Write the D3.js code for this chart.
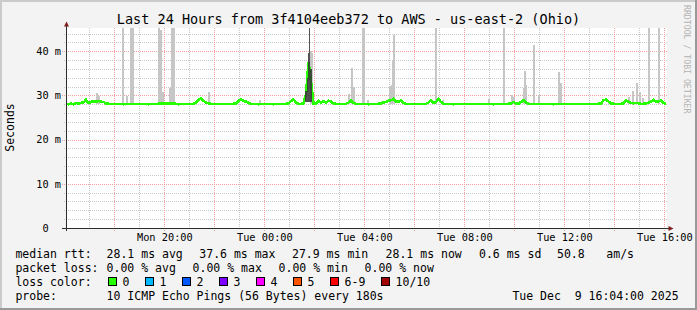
<!DOCTYPE html>
<html>
<head>
<meta charset="utf-8">
<script src="https://cdn.jsdelivr.net/npm/d3@7"></script>
<style>
body { margin: 0; background: #f3f3f3; }
text { font-family: "DejaVu Sans Mono", monospace; fill: #000; }
</style>
</head>
<body>
<script>
// time window of the graph: last 24 hours
var startTime = new Date(2025, 11, 8, 16, 4),
    endTime = new Date(2025, 11, 9, 16, 4);

// median rtt in ms, one value every 6 minutes from startTime
var stepMin = 6;
var medianMs = [
  28.2,28.0,28.2,28.0,28.3,28.1,28.3,28.4,29.0,28.3,28.5,28.7,28.6,28.7,28.6,28.5,28.2,28.1,28.1,28.1,
  28.1,28.1,28.1,28.0,28.1,28.1,28.1,28.1,28.0,28.1,28.1,28.1,28.1,28.0,28.1,28.1,28.1,28.1,28.2,28.2,
  28.2,28.2,28.2,28.2,28.1,28.0,28.1,28.1,28.1,28.1,28.0,28.1,28.4,29.0,29.3,28.8,28.4,28.2,28.1,28.1,
  28.1,28.1,28.0,28.1,28.1,28.1,28.1,28.1,28.2,28.7,29.2,28.7,28.6,28.3,28.1,28.1,28.1,28.0,28.1,28.1,
  28.1,28.1,28.1,28.0,28.1,28.1,28.1,28.1,28.1,28.2,28.7,29.1,28.4,28.1,28.1,28.2,30.2,37.6,33.1,28.2,
  28.1,28.8,28.3,28.7,28.3,28.8,28.6,28.2,28.1,28.1,28.0,28.1,28.1,28.4,28.8,28.3,28.1,28.1,28.1,28.1,
  28.1,28.0,28.1,28.1,28.1,28.1,28.2,28.4,28.5,28.8,28.9,29.2,28.6,28.6,28.9,28.3,28.1,28.1,28.1,28.1,
  28.1,28.1,28.0,28.1,28.1,28.4,28.9,28.3,28.5,29.2,28.5,28.1,28.1,28.1,28.1,28.0,28.1,28.1,28.1,28.1,
  28.1,28.1,28.1,28.1,28.0,28.1,28.1,28.1,28.1,28.1,28.1,28.0,28.1,28.1,28.1,28.1,28.1,28.1,28.2,28.5,
  28.2,28.1,28.5,28.9,28.4,28.1,28.1,28.1,28.0,28.1,28.1,28.1,28.1,28.1,28.1,28.0,28.1,28.1,28.1,28.1,
  28.1,28.1,28.1,28.1,28.0,28.1,28.1,28.1,28.1,28.1,28.1,28.1,28.1,28.1,28.2,28.9,29.1,28.6,28.2,28.1,
  28.1,28.1,28.1,28.2,28.9,28.5,28.3,28.2,28.3,28.2,28.1,28.1,28.2,28.3,28.6,29.0,28.5,28.7,28.8,28.3,
  28.1
];

// smoke: single high pings (minutes after startTime, top of smoke in ms)
var smokeMin = [74, 79, 98, 137, 146, 156, 160, 224, 229, 233, 250, 254, 259, 343, 466, 587, 590,
  679, 686, 690, 712, 716, 725, 758, 778, 782, 785, 788, 888, 905, 1015, 1052, 1070, 1074,
  1099, 1102, 1105, 1123, 1135, 1183, 1187, 1303, 1351, 1360, 1370, 1378, 1384, 1399, 1424];
var smokeTop = [30.5, 29.8, 28.6, 50, 29.9, 50, 50, 50, 44.8, 30.8, 31.6, 50, 50, 30.8, 29.0, 40.0, 39.6,
  30.3, 36.1, 31.9, 50, 50, 29.0, 28.7, 32.1, 32.4, 38.0, 43.7, 50, 29.0, 29.2, 50, 30.1, 29.7,
  31.7, 35.6, 32.4, 41.4, 30.1, 35.4, 32.7, 28.7, 29.6, 31.1, 32.9, 30.8, 29.4, 50, 50];

// dense smoke around the big spike
var darkMin = [576, 579, 582, 585, 588];
var darkTop = [31.0, 34.0, 39.7, 50, 36.0];

var yTicks = [0, 10, 20, 30, 40];

var rttStats = ["28.1 ms avg", "37.6 ms max", "27.9 ms min", "28.1 ms now", "0.6 ms sd", "50.8", "am/s"];
var lossStats = ["0.00 % avg", "0.00 % max", "0.00 % min", "0.00 % now"];
var lossLabels = ["0", "1", "2", "3", "4", "5", "6-9", "10/10"];
var lossColors = ["#26ff00", "#00b8ff", "#0059ff", "#7e00ff", "#ff00ff", "#ff5500", "#ff0000", "#a10000"];

var W = 697, H = 310;
var gLeft = 66, gRight = 666, gTop = 28, gBottom = 228;

var svg = d3.select("body").append("svg")
    .attr("width", W)
    .attr("height", H);

// background and 3d border
svg.append("rect").attr("width", W).attr("height", H).attr("fill", "#f3f3f3");
svg.append("path").attr("d", "M0,0H" + W + "V2H2V" + H + "H0Z").attr("fill", "#cbcbcb");
svg.append("path").attr("d", "M" + W + "," + H + "H0V" + (H - 2) + "H" + (W - 2) + "V0H" + W + "Z").attr("fill", "#999999");

var x = d3.scaleTime().domain([startTime, endTime]).range([gLeft, gRight]);
var y = d3.scaleLinear().domain([0, 45.25]).range([gBottom, gTop]);

function tAt(min) { return new Date(+startTime + min * 60000); }
function px(v) { return Math.round(v) + 0.5; }

// canvas
svg.append("rect")
    .attr("x", gLeft).attr("y", gTop)
    .attr("width", gRight - gLeft + 1).attr("height", gBottom - gTop)
    .attr("fill", "#fff");

svg.append("clipPath").attr("id", "clip")
  .append("rect").attr("x", gLeft).attr("y", gTop).attr("width", gRight - gLeft + 1).attr("height", gBottom - gTop);

var grid = svg.append("g").attr("shape-rendering", "crispEdges");
var minorCol = "#c8c8c8", majorCol = "#f4a0a0";

// horizontal grid every 2 ms, major every 10 ms
d3.range(2, 46, 2).forEach(function(v) {
  var major = v % 10 === 0;
  grid.append("line")
      .attr("x1", major ? 62 : 64).attr("x2", gRight + 1)
      .attr("y1", px(y(v))).attr("y2", px(y(v)))
      .attr("stroke", major ? majorCol : minorCol)
      .attr("stroke-dasharray", "1,1");
});

// vertical grid every hour, major every 2 hours
d3.timeHour.range(startTime, endTime).forEach(function(t) {
  var major = t.getHours() % 2 === 0;
  grid.append("line")
      .attr("x1", px(x(t))).attr("x2", px(x(t)))
      .attr("y1", gTop).attr("y2", major ? gBottom + 3 : gBottom + 2)
      .attr("stroke", major ? majorCol : minorCol)
      .attr("stroke-dasharray", "1,1");
});

var plot = svg.append("g").attr("clip-path", "url(#clip)");

// light smoke
plot.selectAll("rect.smoke")
    .data(smokeMin)
  .enter().append("rect")
    .attr("class", "smoke")
    .attr("shape-rendering", "crispEdges")
    .attr("x", function(d) { return x(tAt(d - 2.5)); })
    .attr("width", function(d) { return x(tAt(d + 2.5)) - x(tAt(d - 2.5)); })
    .attr("y", function(d, i) { return y(smokeTop[i]); })
    .attr("height", function(d, i) { return y(28.0) - y(smokeTop[i]); })
    .attr("fill", "#c6c6c6");

// median line
var line = d3.line()
    .x(function(d, i) { return x(tAt(i * stepMin)); })
    .y(function(d) { return y(d); });

plot.append("path")
    .datum(medianMs)
    .attr("d", line)
    .attr("fill", "none")
    .attr("stroke", lossColors[0])
    .attr("stroke-width", 2.6)
    .attr("shape-rendering", "crispEdges");

// dark smoke
plot.selectAll("rect.dark")
    .data(darkMin)
  .enter().append("rect")
    .attr("class", "dark")
    .attr("shape-rendering", "crispEdges")
    .attr("x", function(d) { return x(tAt(d - 1.5)); })
    .attr("width", function(d) { return x(tAt(d + 1.5)) - x(tAt(d - 1.5)); })
    .attr("y", function(d, i) { return y(darkTop[i]); })
    .attr("height", function(d, i) { return y(28.6) - y(darkTop[i]); })
    .attr("fill", "#333")
    .attr("fill-opacity", 0.85);

// axes
var axisCol = "#2c2c2c", arrowCol = "#7f1f1f";
var ax = svg.append("g").attr("shape-rendering", "crispEdges");
ax.append("line").attr("x1", 62).attr("x2", 669).attr("y1", gBottom + 0.5).attr("y2", gBottom + 0.5).attr("stroke", axisCol);
ax.append("line").attr("x1", gLeft + 0.5).attr("x2", gLeft + 0.5).attr("y1", gBottom + 3).attr("y2", 25).attr("stroke", axisCol);
svg.append("path").attr("d", "M66.5,21.5L64,26.5L69,26.5Z").attr("fill", arrowCol);
svg.append("path").attr("d", "M673.5,228.5L668.5,226L668.5,231Z").attr("fill", arrowCol);

var yAxis = svg.append("g")
    .attr("transform", "translate(" + (gLeft + 0.5) + ",0)")
    .call(d3.axisLeft(y).tickValues(yTicks).tickSize(0).tickPadding(5.5)
      .tickFormat(function(d) { return d ? d + " m" : "0"; }));
yAxis.select(".domain").remove();
yAxis.selectAll("text")
    .attr("font-family", "DejaVu Sans Mono")
    .attr("font-size", "10.3px")
    .filter(function(d) { return d === 0; })
    .attr("x", -17.9);

var labelTimes = d3.timeHour.every(4).range(startTime, endTime);
var xAxis = svg.append("g")
    .attr("transform", "translate(0," + gBottom + ")")
    .call(d3.axisBottom(x).tickValues(labelTimes).tickSize(0).tickPadding(5.2)
      .tickFormat(d3.timeFormat("%a %H:%M")));
xAxis.select(".domain").remove();
xAxis.selectAll("text")
    .attr("font-family", "DejaVu Sans Mono")
    .attr("font-size", "10.3px");

// titles
svg.append("text")
    .attr("x", 348.5).attr("y", 24)
    .attr("text-anchor", "middle")
    .style("font-size", "13.5px")
    .text("Last 24 Hours from 3f4104eeb372 to AWS - us-east-2 (Ohio)");

svg.append("text")
    .attr("transform", "translate(14,127.5) rotate(-90)")
    .attr("text-anchor", "middle")
    .style("font-size", "11.5px")
    .text("Seconds");

svg.append("text")
    .attr("transform", "translate(684,5) rotate(90)")
    .style("font-size", "8.2px")
    .style("fill", "#b4b4b4")
    .text("RRDTOOL / TOBI OETIKER");

// legend
var lg = svg.append("g").style("font-size", "11.5px");
function put(tx, px0, py) {
  lg.append("text").attr("x", px0).attr("y", py).attr("xml:space", "preserve").text(tx);
}
var rttX = [106.6, 199.3, 292, 385.6, 479, 557, 606.3];
put("median rtt:", 15.4, 257.5);
rttStats.forEach(function(s, i) { put(s, rttX[i], 257.5); });

var lossX = [106.6, 192.6, 278.6, 364.6];
put("packet loss:", 15.4, 271.6);
lossStats.forEach(function(s, i) { put(s, lossX[i], 271.6); });

var boxX = [108, 145.3, 182, 218.7, 256, 293.3, 330, 381.3];
put("loss color:", 15.4, 285.7);
lossLabels.forEach(function(s, i) {
  lg.append("rect")
      .attr("x", Math.round(boxX[i]) + 0.5).attr("y", 277.5)
      .attr("width", 8).attr("height", 8)
      .attr("fill", lossColors[i])
      .attr("stroke", "#000")
      .attr("shape-rendering", "crispEdges");
  put(s, Math.round(boxX[i]) + 14.6, 285.7);
});

put("probe:", 15.4, 299.8);
put("10 ICMP Echo Pings (56 Bytes) every 180s", 106.6, 299.8);
put("Tue Dec  9 16:04:00 2025", 512.4, 299.8);
</script>
</body>
</html>
